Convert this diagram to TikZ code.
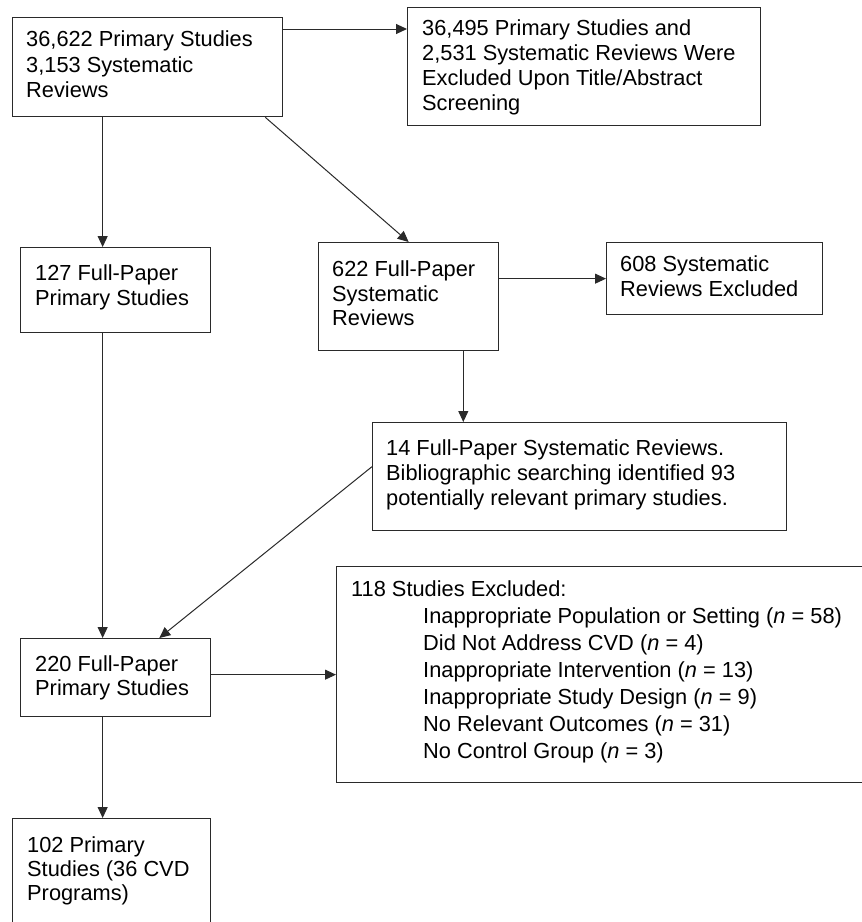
\documentclass[tikz,border=0pt]{standalone}
\usepackage{fontspec}
\setmainfont{Liberation Sans}
\usetikzlibrary{arrows.meta,calc}
\definecolor{ink}{HTML}{2A2A2A}
\begin{document}
\begin{tikzpicture}[x=1pt,y=-1pt,
  box/.style={draw=ink,line width=1.3pt,rectangle,inner sep=0pt,anchor=north west},
  txt/.style={font=\fontsize{21.8}{#1}\selectfont,anchor=north west,inner sep=0pt,align=left,text=black,execute at begin node=\strut},
  arr/.style={draw=ink,line width=1pt,-{Triangle[length=11pt,width=10pt]}}
]
\useasboundingbox (0,0) rectangle (862,922);
\fill[white] (0,0) rectangle (862,922);
% boxes
\node[box,minimum width=270pt,minimum height=99pt] (b1) at (12,17) {};
\node[box,minimum width=353pt,minimum height=118pt] (b2) at (407,7) {};
\node[box,minimum width=190pt,minimum height=85pt] (b3) at (20,247) {};
\node[box,minimum width=180pt,minimum height=108pt] (b4) at (318,242) {};
\node[box,minimum width=216pt,minimum height=72pt] (b5) at (606,242) {};
\node[box,minimum width=414pt,minimum height=108pt] (b6) at (372,422) {};
\node[box,minimum width=540pt,minimum height=216pt] (b7) at (336,566) {};
\node[box,minimum width=190pt,minimum height=78pt] (b8) at (20,638) {};
\node[box,minimum width=198pt,minimum height=120pt] (b9) at (12,818) {};
% texts
\node[txt=25.8] (t1) at (26,30.2) {36,622 Primary Studies\\3,153 Systematic\\Reviews};
\node[txt=25] (t2) at (422,19.2) {36,495 Primary Studies and\\2,531 Systematic Reviews Were\\Excluded Upon Title/Abstract\\Screening};
\node[txt=25] (t3) at (35,264.2) {127 Full-Paper\\Primary Studies};
\node[txt=24.5] (t4) at (332,260.5) {622 Full-Paper\\Systematic\\Reviews};
\node[txt=24.7] (t5) at (620,255.7) {608 Systematic\\Reviews Excluded};
\node[txt=25] (t6) at (386,439.2) {14 Full-Paper Systematic Reviews.\\Bibliographic searching identified 93\\potentially relevant primary studies.};
\node[txt=27] (t7) at (351,580.4) {118 Studies Excluded:\\
\hspace*{72pt}Inappropriate Population or Setting (\textit{n} = 58)\\
\hspace*{72pt}Did Not Address CVD (\textit{n} = 4)\\
\hspace*{72pt}Inappropriate Intervention (\textit{n} = 13)\\
\hspace*{72pt}Inappropriate Study Design (\textit{n} = 9)\\
\hspace*{72pt}No Relevant Outcomes (\textit{n} = 31)\\
\hspace*{72pt}No Control Group (\textit{n} = 3)};
\node[txt=24.4] (t8) at (35,655.2) {220 Full-Paper\\Primary Studies};
\node[txt=24] (t9) at (27,836.5) {102 Primary\\Studies (36 CVD\\Programs)};
% connectors
\draw[arr] ([yshift=-12pt]b1.north east) -- ([yshift=-12pt]b1.north east -| b2.west);
\draw[arr] ([xshift=-13pt]b3.north |- b1.south) -- ([xshift=-13pt]b3.north);
\draw[arr] ([xshift=-18pt]b1.south east) -- (b4.north);
\draw[arr] (b4.east |- b5.west) -- (b5.west);
\draw[arr] ([xshift=-36pt]b4.south east) -- ([xshift=-36pt]b4.south east |- b6.north);
\draw[arr] ([xshift=-13pt]b3.south) -- ([xshift=-13pt]b8.north);
\draw[arr] ([yshift=10pt]b6.west) -- ([xshift=-52pt]b8.north east);
\draw[arr] ([yshift=3pt]b8.east) -- ([yshift=3pt]b8.east -| b7.west);
\draw[arr] ([xshift=-13pt]b8.south) -- ([xshift=-13pt]b8.south |- b9.north);
\end{tikzpicture}
\end{document}
